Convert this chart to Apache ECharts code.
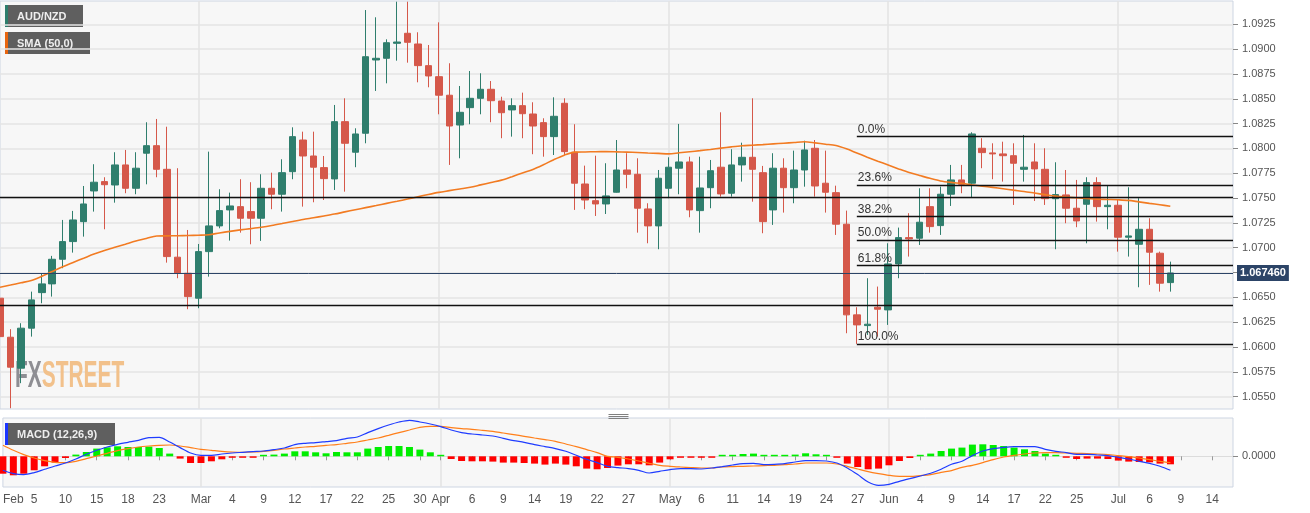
<!DOCTYPE html>
<html><head><meta charset="utf-8">
<script src="https://cdn.jsdelivr.net/npm/echarts@6/dist/echarts.min.js"></script>
<style>html,body{margin:0;padding:0;background:#fff}#c{width:1310px;height:513px}</style>
</head><body><div id="c"></div><script>
// ---- categories: trading days (Mon-Fri) from 2021-02-02 to 2021-07-16
const dates = [];
for (let d = new Date(Date.UTC(2021, 1, 2)); dates.length < 119; d.setUTCDate(d.getUTCDate() + 1)) {
  const wd = d.getUTCDay();
  if (wd === 0 || wd === 6) continue;
  dates.push(d.toISOString().slice(0, 10));
}

// ---- AUD/NZD daily candles (Feb 2 .. Jul 8)
const opens = [1.06492,1.06099,1.05787,1.06190,1.06548,1.06636,1.06884,1.07062,1.07263,1.07572,
1.07666,1.07632,1.07834,1.07599,1.07952,1.08028,1.07790,1.06905,1.06743,1.06492,
1.06961,1.07220,1.07381,1.07414,1.07364,1.07297,1.07599,1.07539,1.07766,1.08085,
1.07924,1.07807,1.07693,1.08270,1.07962,1.08153,1.08891,1.08908,1.09059,1.09160,
1.09052,1.08834,1.08723,1.08536,1.08236,1.08411,1.08505,1.08596,1.08478,1.08388,
1.08431,1.08347,1.08260,1.08119,1.08455,1.07962,1.07642,1.07474,1.07441,1.07559,
1.07783,1.07740,1.07391,1.07220,1.07599,1.07801,1.07864,1.07374,1.07605,1.07811,
1.07549,1.07834,1.07911,1.07756,1.07381,1.07801,1.07605,1.07783,1.08002,1.07650,
1.07555,1.07237,1.06324,1.06216,1.06401,1.06374,1.06837,1.07102,1.07096,1.07414,
1.07223,1.07539,1.07683,1.07650,1.08002,1.07955,1.07945,1.07927,1.07790,1.07864,
1.07790,1.07494,1.07532,1.07398,1.07438,1.07656,1.07414,1.07428,1.07106,1.07035,
1.07186,1.06945,1.06649];
const highs = [1.06810,1.06180,1.06240,1.06558,1.06736,1.06918,1.07280,1.07371,1.07622,1.07841,
1.07710,1.07962,1.07985,1.07962,1.08264,1.08297,1.08219,1.07801,1.07179,1.07038,
1.07968,1.07589,1.07555,1.07690,1.07660,1.07740,1.07756,1.07891,1.08213,1.08169,
1.08169,1.07924,1.08438,1.08505,1.08203,1.09394,1.09321,1.09099,1.09478,1.09478,
1.09170,1.09042,1.09270,1.08858,1.08629,1.08780,1.08757,1.08679,1.08521,1.08505,
1.08562,1.08465,1.08304,1.08515,1.08505,1.08244,1.07827,1.07927,1.07851,1.08085,
1.07952,1.07901,1.07448,1.07783,1.07911,1.08247,1.07917,1.07917,1.07884,1.08364,
1.07992,1.08058,1.08505,1.07824,1.07952,1.07901,1.07978,1.08078,1.08085,1.07978,
1.07625,1.07374,1.06401,1.06693,1.06609,1.07045,1.07203,1.07348,1.07599,1.07599,
1.07615,1.07834,1.07834,1.08163,1.08103,1.08052,1.08068,1.08052,1.08136,1.08052,
1.08002,1.07861,1.07783,1.07683,1.07710,1.07710,1.07622,1.07488,1.07609,1.07499,
1.07297,1.06961,1.06860];
const lows = [1.05938,1.05384,1.05636,1.06105,1.06441,1.06508,1.06794,1.06951,1.07112,1.07364,
1.07186,1.07454,1.07549,1.07539,1.07639,1.07710,1.06850,1.06693,1.06381,1.06391,
1.06709,1.07196,1.07072,1.07152,1.07035,1.07069,1.07388,1.07364,1.07690,1.07414,
1.07458,1.07481,1.07582,1.07565,1.07811,1.08052,1.08579,1.08656,1.08884,1.08864,
1.08666,1.08616,1.08344,1.07834,1.07901,1.08244,1.08344,1.08264,1.08103,1.08119,
1.08103,1.07942,1.07917,1.07934,1.07934,1.07381,1.07388,1.07320,1.07340,1.07555,
1.07599,1.07152,1.07045,1.06985,1.07499,1.07539,1.07307,1.07152,1.07398,1.07515,
1.07515,1.07666,1.07464,1.07146,1.07230,1.07354,1.07448,1.07615,1.07515,1.07354,
1.07129,1.06139,1.06032,1.06122,1.06105,1.06223,1.06693,1.06911,1.07028,1.07152,
1.07129,1.07421,1.07549,1.07509,1.07801,1.07690,1.07666,1.07431,1.07666,1.07471,
1.07431,1.06985,1.07247,1.07207,1.07045,1.07263,1.07186,1.06961,1.06911,1.06602,
1.06626,1.06558,1.06558];
const closes = [1.06105,1.05797,1.06190,1.06475,1.06636,1.06884,1.07062,1.07280,1.07441,1.07660,
1.07635,1.07834,1.07599,1.07801,1.08028,1.07790,1.06911,1.06743,1.06508,1.06961,
1.07220,1.07374,1.07421,1.07297,1.07297,1.07599,1.07539,1.07756,1.08119,1.07924,
1.07811,1.07696,1.08270,1.08052,1.08146,1.08924,1.08908,1.09065,1.09072,1.09069,
1.08834,1.08730,1.08536,1.08226,1.08364,1.08505,1.08596,1.08481,1.08360,1.08431,
1.08350,1.08226,1.08119,1.08324,1.07968,1.07650,1.07481,1.07441,1.07522,1.07783,
1.07740,1.07398,1.07220,1.07700,1.07811,1.07864,1.07381,1.07602,1.07776,1.07542,
1.07834,1.07911,1.07790,1.07263,1.07801,1.07605,1.07783,1.07985,1.07622,1.07559,
1.07237,1.06324,1.06223,1.06230,1.06381,1.06837,1.07102,1.07089,1.07257,1.07213,
1.07539,1.07683,1.07639,1.08146,1.07958,1.07945,1.07927,1.07851,1.07811,1.07794,
1.07494,1.07535,1.07398,1.07270,1.07656,1.07414,1.07428,1.07106,1.07119,1.07186,
1.06955,1.06643,1.06746];

// ---- SMA (50)
const sma50 = [1.06602,1.06624,1.06647,1.06670,1.06712,1.06760,1.06808,1.06852,1.06894,1.06936,
1.06973,1.07005,1.07036,1.07067,1.07093,1.07119,1.07120,1.07121,1.07123,1.07126,
1.07131,1.07149,1.07165,1.07180,1.07193,1.07207,1.07224,1.07244,1.07265,1.07285,
1.07302,1.07320,1.07339,1.07361,1.07383,1.07404,1.07425,1.07447,1.07468,1.07490,
1.07514,1.07537,1.07558,1.07575,1.07592,1.07609,1.07633,1.07657,1.07681,1.07716,
1.07753,1.07789,1.07836,1.07887,1.07932,1.07963,1.07965,1.07967,1.07968,1.07966,
1.07963,1.07959,1.07954,1.07950,1.07945,1.07956,1.07967,1.07978,1.07990,1.08003,
1.08016,1.08027,1.08033,1.08039,1.08046,1.08053,1.08060,1.08067,1.08056,1.08043,
1.08029,1.07996,1.07954,1.07912,1.07872,1.07833,1.07794,1.07757,1.07728,1.07699,
1.07673,1.07658,1.07648,1.07634,1.07621,1.07608,1.07594,1.07580,1.07567,1.07551,
1.07535,1.07520,1.07510,1.07503,1.07496,1.07489,1.07486,1.07483,1.07477,1.07462,
1.07447,1.07433,1.07418];

// ---- MACD (12,26,9)
const macdLine = [-0.00140,-0.00173,-0.00183,-0.00163,-0.00130,-0.00097,-0.00067,-0.00027,0.00020,0.00060,
0.00093,0.00120,0.00140,0.00160,0.00187,0.00190,0.00143,0.00087,0.00033,0.00010,
0.00010,0.00023,0.00033,0.00040,0.00047,0.00053,0.00067,0.00083,0.00117,0.00130,
0.00137,0.00147,0.00157,0.00180,0.00193,0.00237,0.00277,0.00313,0.00343,0.00360,
0.00343,0.00323,0.00297,0.00263,0.00237,0.00223,0.00213,0.00203,0.00180,0.00157,
0.00140,0.00117,0.00097,0.00077,0.00050,0.00010,-0.00030,-0.00063,-0.00100,-0.00113,
-0.00123,-0.00140,-0.00167,-0.00150,-0.00133,-0.00123,-0.00123,-0.00127,-0.00117,-0.00103,
-0.00087,-0.00073,-0.00070,-0.00083,-0.00080,-0.00073,-0.00057,-0.00043,-0.00043,-0.00047,
-0.00067,-0.00117,-0.00183,-0.00257,-0.00290,-0.00280,-0.00250,-0.00223,-0.00197,-0.00170,
-0.00130,-0.00080,-0.00050,0.00007,0.00053,0.00077,0.00090,0.00097,0.00097,0.00097,
0.00070,0.00050,0.00037,0.00020,0.00020,0.00013,0.00007,-0.00010,-0.00027,-0.00050,
-0.00070,-0.00100,-0.00140];
const signalLine = [0.00110,0.00060,0.00017,-0.00017,-0.00043,-0.00060,-0.00063,-0.00050,-0.00023,0.00003,
0.00030,0.00057,0.00077,0.00093,0.00103,0.00110,0.00113,0.00103,0.00087,0.00070,
0.00060,0.00050,0.00043,0.00040,0.00043,0.00050,0.00060,0.00073,0.00083,0.00093,
0.00100,0.00110,0.00117,0.00130,0.00143,0.00163,0.00183,0.00210,0.00237,0.00263,
0.00290,0.00300,0.00300,0.00287,0.00277,0.00270,0.00260,0.00250,0.00233,0.00217,
0.00200,0.00183,0.00167,0.00150,0.00123,0.00097,0.00067,0.00037,0.00000,-0.00010,
-0.00027,-0.00047,-0.00070,-0.00090,-0.00100,-0.00107,-0.00113,-0.00117,-0.00117,-0.00107,
-0.00103,-0.00100,-0.00097,-0.00093,-0.00090,-0.00083,-0.00077,-0.00067,-0.00067,-0.00067,
-0.00077,-0.00100,-0.00127,-0.00153,-0.00173,-0.00190,-0.00200,-0.00200,-0.00193,-0.00183,
-0.00160,-0.00143,-0.00110,-0.00090,-0.00063,-0.00033,-0.00007,0.00010,0.00023,0.00033,
0.00037,0.00037,0.00033,0.00030,0.00027,0.00023,0.00017,0.00007,-0.00003,-0.00017,
-0.00033,-0.00050,-0.00063];
const histogram = [-0.00174,-0.00190,-0.00174,-0.00140,-0.00100,-0.00063,-0.00017,0.00017,0.00043,0.00077,
0.00090,0.00100,0.00093,0.00093,0.00097,0.00083,0.00027,-0.00023,-0.00067,-0.00067,
-0.00050,-0.00030,-0.00013,-0.00010,-0.00007,0.00007,0.00017,0.00027,0.00050,0.00050,
0.00040,0.00030,0.00043,0.00040,0.00040,0.00077,0.00093,0.00103,0.00103,0.00093,
0.00067,0.00040,0.00013,-0.00027,-0.00047,-0.00050,-0.00050,-0.00053,-0.00063,-0.00063,
-0.00067,-0.00073,-0.00083,-0.00073,-0.00083,-0.00100,-0.00123,-0.00130,-0.00117,-0.00093,
-0.00080,-0.00080,-0.00090,-0.00063,-0.00030,-0.00013,-0.00013,-0.00010,-0.00003,0.00003,
0.00013,0.00023,0.00027,0.00007,0.00013,0.00013,0.00017,0.00030,0.00020,0.00007,
-0.00010,-0.00073,-0.00107,-0.00130,-0.00123,-0.00090,-0.00047,-0.00017,0.00010,0.00027,
0.00053,0.00077,0.00087,0.00117,0.00120,0.00113,0.00103,0.00087,0.00070,0.00053,
0.00027,0.00010,-0.00003,-0.00027,-0.00023,-0.00023,-0.00027,-0.00043,-0.00053,-0.00057,
-0.00060,-0.00073,-0.00080];

// ---- levels
const lastPrice = 1.06746;
const supportLines = [1.07508, 1.06424];
const fibNames = ['0.0%', '23.6%', '38.2%', '50.0%', '61.8%', '100.0%'];
const fibValues = [1.08122, 1.07632, 1.07317, 1.07078, 1.06824, 1.06031];
const fibStart = '2021-05-27';

// ---- axis ticks / labels
const priceTicks = [1.0550,1.0575,1.0600,1.0625,1.0650,1.0675,1.0700,1.0725,1.0750,1.0775,1.0800,1.0825,1.0850,1.0875,1.0900,1.0925];
const macdTicks = [0];
const tickDates = ['2021-02-03','2021-02-05','2021-02-10','2021-02-15','2021-02-18','2021-02-23','2021-03-01','2021-03-04','2021-03-09','2021-03-12','2021-03-17','2021-03-22','2021-03-25','2021-03-30','2021-04-01','2021-04-06','2021-04-09','2021-04-14','2021-04-19','2021-04-22','2021-04-27','2021-05-03','2021-05-06','2021-05-11','2021-05-14','2021-05-19','2021-05-24','2021-05-27','2021-06-01','2021-06-04','2021-06-09','2021-06-14','2021-06-17','2021-06-22','2021-06-25','2021-07-01','2021-07-06','2021-07-09','2021-07-14'];
const tickTexts = ['Feb','5','10','15','18','23','Mar','4','9','12','17','22','25','30','Apr','6','9','14','19','22','27','May','6','11','14','19','24','27','Jun','4','9','14','17','22','25','Jul','6','9','14'];
const monthStarts = ['2021-03-01','2021-04-01','2021-05-03','2021-06-01','2021-07-01'];

const labelMap = {};
tickDates.forEach((d, i) => { labelMap[d] = tickTexts[i]; });

const UP = '#2f7e6d', DOWN = '#d5584a';
const FONT = '"Liberation Sans", Arial, sans-serif';
const candleData = opens.map((o, i) => [o, closes[i], lows[i], highs[i]]);

const vSplit = { show: true, interval: (i, v) => monthStarts.indexOf(v) >= 0, lineStyle: { color: '#e3e3e3', width: 1.5 } };

const markData = [];
supportLines.forEach(v => markData.push({ yAxis: v, lineStyle: { color: '#111', width: 1.3, type: 'solid' }, label: { show: false } }));
fibValues.forEach((v, i) => markData.push([
  { coord: [fibStart, v], lineStyle: { color: '#111', width: 1.3, type: 'solid' },
    label: { show: true, position: 'insideStartTop', formatter: fibNames[i], color: '#333', fontSize: 12, fontFamily: FONT, distance: 1 } },
  { coord: [dates[dates.length - 1], v] }
]));
markData.push({ yAxis: lastPrice, lineStyle: { color: '#2c4467', width: 1, type: 'solid' },
  label: { show: true, position: 'end', formatter: lastPrice.toFixed(6), backgroundColor: '#2c4467', color: '#fff',
    fontWeight: 'bold', fontSize: 11, fontFamily: FONT, padding: [3, 3, 2, 3], distance: 4 } });

function legendBox(top, width, stripe, text) {
  return { type: 'group', left: 5, top: top, children: [
    { type: 'rect', shape: { x: 0, y: 0, width: width, height: 22 }, style: { fill: '#5f5f5f' } },
    { type: 'rect', shape: { x: 0, y: 0, width: 3, height: 22 }, style: { fill: stripe } },
    { type: 'text', x: 12, y: 11.5, style: { text: text, fill: '#eeeeee', font: 'bold 11px ' + FONT, align: 'left', verticalAlign: 'middle' } }
  ] };
}

const chart = echarts.init(document.getElementById('c'));
chart.setOption({
  animation: false,
  backgroundColor: '#ffffff',
  textStyle: { fontFamily: FONT },
  grid: [
    { left: 0, right: 77, top: 1, height: 408, show: true, backgroundColor: '#f7f7f7', borderColor: '#cdd5e2', borderWidth: 1 },
    { left: 0, right: 77, top: 418, height: 69, show: true, backgroundColor: '#f7f7f7', borderColor: '#cdd5e2', borderWidth: 1 }
  ],
  xAxis: [
    { type: 'category', gridIndex: 0, data: dates, boundaryGap: false,
      axisLine: { show: false }, axisTick: { show: false }, axisLabel: { show: false }, splitLine: vSplit },
    { type: 'category', gridIndex: 1, data: dates, boundaryGap: false,
      axisLine: { show: false },
      axisTick: { show: true, interval: (i, v) => labelMap[v] !== undefined, length: 4, lineStyle: { color: '#999' } },
      axisLabel: { show: true, interval: (i, v) => labelMap[v] !== undefined, formatter: v => labelMap[v] || '',
        color: '#555', fontSize: 12, fontFamily: FONT, margin: 7 },
      splitLine: vSplit }
  ],
  yAxis: [
    { type: 'value', gridIndex: 0, position: 'right', min: 1.05376, max: 1.09485,
      axisLine: { show: false },
      axisTick: { show: true, length: 5, customValues: priceTicks, lineStyle: { color: '#888' } },
      axisLabel: { customValues: priceTicks, formatter: v => v.toFixed(4), color: '#555', fontSize: 11, fontFamily: FONT, margin: 9 },
      splitLine: { show: true, lineStyle: { color: '#e4e4e4', width: 1.5 } } },
    { type: 'value', gridIndex: 1, position: 'right', min: -0.00307, max: 0.00383,
      axisLine: { show: false },
      axisTick: { show: true, length: 5, customValues: macdTicks, lineStyle: { color: '#888' } },
      axisLabel: { customValues: macdTicks, formatter: v => v.toFixed(4), color: '#555', fontSize: 11, fontFamily: FONT, margin: 9 },
      splitLine: { show: true, lineStyle: { color: '#dcdcdc', width: 1 } } }
  ],
  series: [
    { type: 'candlestick', name: 'AUD/NZD', xAxisIndex: 0, yAxisIndex: 0, data: candleData, barWidth: 7,
      itemStyle: { color: UP, color0: DOWN, borderColor: UP, borderColor0: DOWN, borderWidth: 1 },
      markLine: { silent: true, symbol: ['none', 'none'], precision: 6, animation: false, data: markData } },
    { type: 'line', name: 'SMA (50,0)', xAxisIndex: 0, yAxisIndex: 0, data: sma50, showSymbol: false, smooth: 0.3,
      lineStyle: { color: '#f27b22', width: 1.6 }, z: 3 },
    { type: 'bar', name: 'hist', xAxisIndex: 1, yAxisIndex: 1, barWidth: 7, barMinHeight: 1.5,
      data: histogram.map(v => ({ value: v, itemStyle: { color: v >= 0 ? '#00ee00' : '#ff0000' } })) },
    { type: 'line', name: 'MACD', xAxisIndex: 1, yAxisIndex: 1, data: macdLine, showSymbol: false, smooth: 0.3,
      lineStyle: { color: '#1f3cff', width: 1.2 }, z: 4 },
    { type: 'line', name: 'Signal', xAxisIndex: 1, yAxisIndex: 1, data: signalLine, showSymbol: false, smooth: 0.3,
      lineStyle: { color: '#ff7f1a', width: 1.2 }, z: 3 }
  ],
  graphic: [
    legendBox(5, 78, '#2d7d6c', 'AUD/NZD'),
    legendBox(32, 85, '#e8650f', 'SMA (50,0)'),
    legendBox(423, 110, '#1a35ff', 'MACD (12,26,9)'),
    { type: 'text', left: 15, top: 358, scaleX: 0.565, z: 1,
      style: { text: '{a|FX}{b|STREET}', font: 'bold 37px ' + FONT,
        rich: { a: { fill: '#8e8e93', font: 'bold 37px ' + FONT }, b: { fill: '#f2c18b', font: 'bold 37px ' + FONT } } } },
    { type: 'group', left: 606, top: 412, children: [
      { type: 'line', shape: { x1: 0, y1: 0.5, x2: 20, y2: 0.5 }, style: { stroke: '#808080', lineWidth: 1 } },
      { type: 'line', shape: { x1: 0, y1: 2.5, x2: 20, y2: 2.5 }, style: { stroke: '#808080', lineWidth: 1 } },
      { type: 'line', shape: { x1: 0, y1: 4.5, x2: 20, y2: 4.5 }, style: { stroke: '#808080', lineWidth: 1 } }
    ] }
  ]
});
</script></body></html>
